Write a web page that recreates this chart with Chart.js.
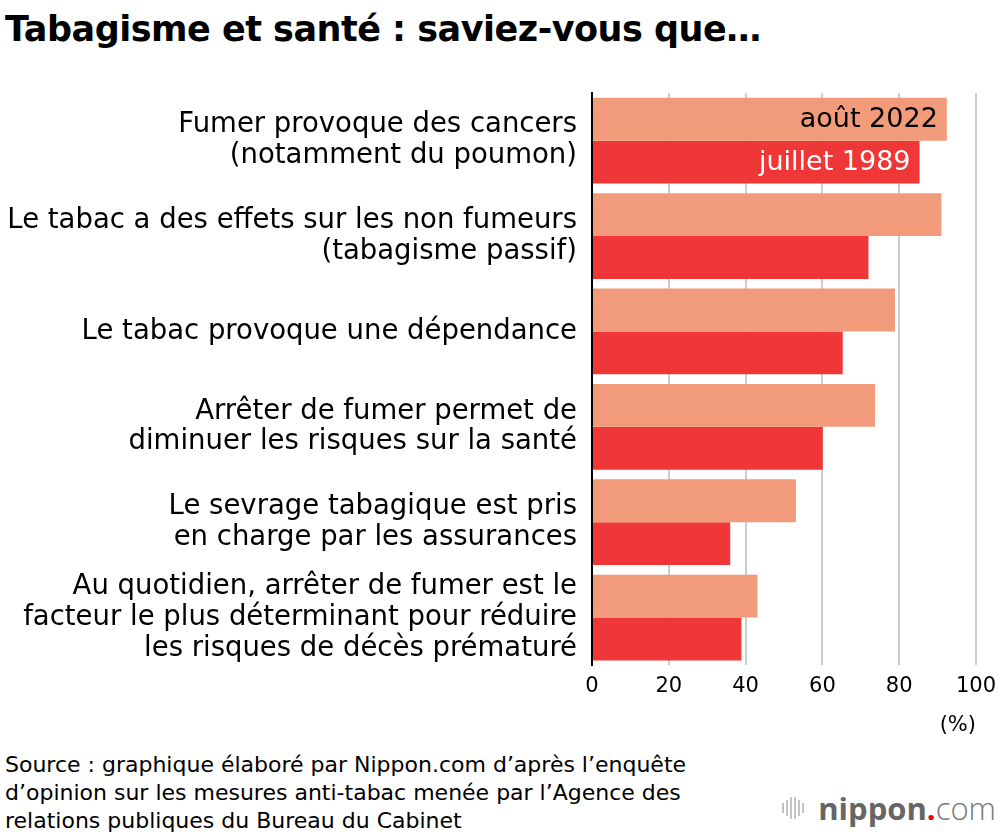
<!DOCTYPE html>
<html lang="fr">
<head>
<meta charset="utf-8">
<script src="https://cdn.jsdelivr.net/npm/chart.js@4.4.0/dist/chart.umd.min.js"></script>
<style>
    html, body { margin: 0; padding: 0; background: #fff; }
    body { width: 1000px; height: 836px; position: relative; overflow: hidden; font-family: 'DejaVu Sans', sans-serif; color: #000; }
    #title { position: absolute; left: 5px; top: 12px; font-size: 35px; line-height: 1; font-weight: bold; letter-spacing: -0.5px; white-space: nowrap; }
    #chartBox { position: absolute; left: 0; top: 80px; width: 1000px; height: 659px; }
    #source { position: absolute; left: 5px; top: 751px; font-size: 22px; line-height: 28px; white-space: nowrap; }
    #logo { position: absolute; right: 4px; top: 788px; font-family: 'Open Sans', sans-serif; font-size: 31px; line-height: 40px; color: #666; display: flex; align-items: center; }
    #logo .bars { display: inline-flex; align-items: center; margin-right: 12px; }
    #logo .bars span { display: inline-block; width: 2px; background: #c4c4c4; margin-right: 2px; }
    #logo b { font-weight: 700; }
    #logo .dot { color: #e60012; font-weight: 700; }
    #logo .com { font-weight: 300; color: #777; }
</style>
</head>
<body>
<div id="title">Tabagisme et santé : saviez-vous que…</div>
<div id="chartBox"><canvas id="tabacChart"></canvas></div>
<div id="source">Source : graphique élaboré par Nippon.com d’après l’enquête<br>d’opinion sur les mesures anti-tabac menée par l’Agence des<br>relations publiques du Bureau du Cabinet</div>
<div id="logo">
    <span class="bars"><span style="height:10px"></span><span style="height:16px"></span><span style="height:22px"></span><span style="height:22px"></span><span style="height:16px"></span><span style="height:10px"></span></span>
    <b>nippon</b><span class="dot">.</span><span class="com">com</span>
</div>
<script>
    // ── Data ────────────────────────────────────────────────────────────────
    const categories = [
        ['Fumer provoque des cancers', '(notamment du poumon)'],
        ['Le tabac a des effets sur les non fumeurs', '(tabagisme passif)'],
        'Le tabac provoque une dépendance',
        ['Arrêter de fumer permet de', 'diminuer les risques sur la santé'],
        ['Le sevrage tabagique est pris', 'en charge par les assurances'],
        ['Au quotidien, arrêter de fumer est le', 'facteur le plus déterminant pour réduire', 'les risques de décès prématuré']
    ];
    const seriesLabels = ['août 2022', 'juillet 1989'];
    const values2022 = [92.4, 91.0, 78.9, 73.7, 53.1, 43.1];
    const values1989 = [85.3, 72.0, 65.3, 60.1, 36.0, 38.9];
    const xTicks = [0, 20, 40, 60, 80, 100];

    const FONT = "'DejaVu Sans', sans-serif";

    // series names written inside the first pair of bars
    const innerLabels = {
        id: 'innerLabels',
        afterDatasetsDraw(chart) {
            const ctx = chart.ctx;
            const colors = ['#000000', '#ffffff'];
            ctx.save();
            ctx.font = '27px ' + FONT;
            ctx.textAlign = 'right';
            ctx.textBaseline = 'middle';
            chart.data.datasets.forEach((ds, i) => {
                const bar = chart.getDatasetMeta(i).data[0];
                if (!bar) return;
                ctx.fillStyle = colors[i];
                ctx.fillText(ds.label, bar.x - 9, bar.y + 1);
            });
            ctx.restore();
        }
    };

    new Chart(document.getElementById('tabacChart'), {
        type: 'bar',
        data: {
            labels: categories,
            datasets: [
                { label: seriesLabels[0], data: values2022, backgroundColor: '#F29B7A', borderWidth: 0 },
                { label: seriesLabels[1], data: values1989, backgroundColor: '#EF3737', borderWidth: 0 }
            ]
        },
        options: {
            indexAxis: 'y',
            responsive: true,
            maintainAspectRatio: false,
            animation: false,
            categoryPercentage: 0.9,
            barPercentage: 1.0,
            layout: { padding: { top: 13, right: 24, left: 0, bottom: 0 } },
            plugins: {
                legend: { display: false },
                tooltip: { enabled: false }
            },
            scales: {
                x: {
                    min: 0,
                    max: 100,
                    afterBuildTicks: scale => { scale.ticks = xTicks.map(v => ({ value: v })); },
                    afterFit: scale => { scale.paddingLeft = 0; scale.paddingRight = 0; },
                    grid: { color: '#cccccc', lineWidth: 2, drawTicks: false },
                    border: { display: false },
                    ticks: { color: '#000', padding: 16, maxRotation: 0, font: { family: FONT, size: 21, lineHeight: 0.55 } },
                    title: { display: true, text: '(%)', align: 'end', color: '#000', padding: { top: 4, bottom: 1 }, font: { family: FONT, size: 21 } }
                },
                y: {
                    afterFit: scale => {
                        scale.width = 592;
                        scale.paddingTop = 0;
                        scale.paddingBottom = 0;
                    },
                    grid: { display: false },
                    border: { display: true, color: '#000', width: 2 },
                    ticks: { color: '#000', padding: 7, autoSkip: false, font: { family: FONT, size: 27.5, lineHeight: 1.12 } }
                }
            }
        },
        plugins: [innerLabels]
    });
</script>
</body>
</html>
